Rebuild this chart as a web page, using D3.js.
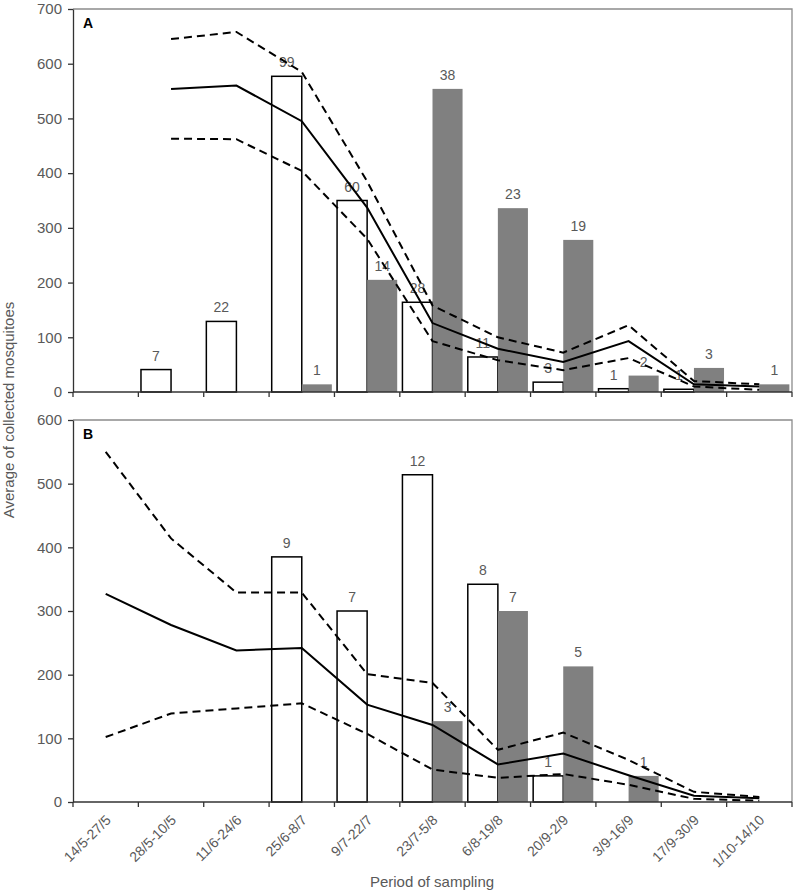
<!DOCTYPE html>
<html><head><meta charset="utf-8">
<script src="https://cdn.jsdelivr.net/npm/d3@7"></script>
<style>body{margin:0;background:#fff}svg{display:block}text{font-family:"Liberation Sans",Arial,sans-serif}</style>
</head><body><svg id="c" width="796" height="896"></svg>
<script>
const categories = ["14/5-27/5","28/5-10/5","11/6-24/6","25/6-8/7","9/7-22/7","23/7-5/8","6/8-19/8","20/9-2/9","3/9-16/9","17/9-30/9","1/10-14/10"];

const aWhite       = [null, 41, 129, 577, 350, 164, 64, 18, 6, 5, null];
const aWhiteLabels = [null, 7, 22, 99, 60, 28, 11, 3, 1, 1, null];
const aGray        = [null, null, null, 14, 205, 554, 336, 278, 30, 44, 14];
const aGrayLabels  = [null, null, null, 1, 14, 38, 23, 19, 2, 3, 1];
const aMean  = [null, 554, 560, 495, 337, 126, 79, 55, 93, 14, 10];
const aUpper = [null, 645, 658, 585, 385, 158, 100, 72, 122, 20, 14];
const aLower = [null, 463, 462, 404, 280, 93, 58, 40, 62, 10, 4];
const aTicks = [0,100,200,300,400,500,600,700];

const bWhite       = [null, null, null, 385, 300, 514, 342, 41, null, null, null];
const bWhiteLabels = [null, null, null, 9, 7, 12, 8, 1, null, null, null];
const bGray        = [null, null, null, null, null, 127, 300, 213, 41, null, null];
const bGrayLabels  = [null, null, null, null, null, 3, 7, 5, 1, null, null];
const bMean  = [327, 278, 238, 242, 153, 121, 59, 76, 42, 10, 6];
const bUpper = [550, 414, 329, 329, 201, 187, 82, 109, 66, 16, 8];
const bLower = [102, 139, 147, 155, 107, 51, 38, 44, 27, 5, 2];
const bTicks = [0,100,200,300,400,500,600];

const svg = d3.select("#c");
const left = 73, right = 792;
const x = d3.scaleBand().domain(categories).range([left, right]).padding(0);
const bw = x.bandwidth() * 0.46;
const off = (x.bandwidth() - 2 * bw) / 2;
const txtCol = "#595959";

function panel(cfg) {
  const y = d3.scaleLinear().domain([0, cfg.max]).range([cfg.bottom, cfg.top]);
  const g = svg.append("g");
  g.append("path").attr("d", `M${left},${cfg.top}H${right}V${cfg.bottom}`)
    .attr("fill", "none").attr("stroke", "#8c8c8c").attr("stroke-width", 1.3);

  const idx = categories.map((c, i) => i);
  g.selectAll(".w").data(idx.filter(i => cfg.white[i] != null)).join("rect")
    .attr("x", i => x(categories[i]) + off).attr("width", bw)
    .attr("y", i => y(cfg.white[i])).attr("height", i => cfg.bottom - y(cfg.white[i]))
    .attr("fill", "#fff").attr("stroke", "#000").attr("stroke-width", 1.5);
  g.selectAll(".g").data(idx.filter(i => cfg.gray[i] != null)).join("rect")
    .attr("x", i => x(categories[i]) + off + bw).attr("width", bw)
    .attr("y", i => y(cfg.gray[i])).attr("height", i => cfg.bottom - y(cfg.gray[i]))
    .attr("fill", "#808080");
  g.selectAll(".wl").data(idx.filter(i => cfg.whiteL[i] != null)).join("text")
    .attr("x", i => x(categories[i]) + off + bw / 2).attr("y", i => y(cfg.white[i]) - 9)
    .attr("text-anchor", "middle").attr("font-size", 14).attr("fill", txtCol)
    .text(i => cfg.whiteL[i]);
  g.selectAll(".gl").data(idx.filter(i => cfg.grayL[i] != null)).join("text")
    .attr("x", i => x(categories[i]) + off + bw * 1.5).attr("y", i => y(cfg.gray[i]) - 9)
    .attr("text-anchor", "middle").attr("font-size", 14).attr("fill", txtCol)
    .text(i => cfg.grayL[i]);

  const line = d3.line().defined(d => d != null)
    .x((d, i) => x(categories[i]) + x.bandwidth() / 2).y(d => y(d));
  g.append("path").attr("d", line(cfg.upper)).attr("fill", "none")
    .attr("stroke", "#000").attr("stroke-width", 2).attr("stroke-dasharray", "8,5");
  g.append("path").attr("d", line(cfg.lower)).attr("fill", "none")
    .attr("stroke", "#000").attr("stroke-width", 2).attr("stroke-dasharray", "8,5");
  g.append("path").attr("d", line(cfg.mean)).attr("fill", "none")
    .attr("stroke", "#000").attr("stroke-width", 2);

  const ya = g.append("g").attr("transform", `translate(${left},0)`)
    .call(d3.axisLeft(y).tickValues(cfg.ticks).tickSize(5).tickSizeOuter(0).tickPadding(6));
  ya.select(".domain").attr("stroke", "#333").attr("stroke-width", 1.3);
  ya.selectAll(".tick line").attr("stroke", "#333").attr("stroke-width", 1.3);
  ya.selectAll("text").attr("font-size", 15).attr("fill", txtCol)
    .style("font-family", '"Liberation Sans",Arial,sans-serif');

  const bounds = categories.map(c => x(c)).concat([right]);
  g.append("line").attr("x1", left).attr("x2", right).attr("y1", cfg.bottom).attr("y2", cfg.bottom)
    .attr("stroke", "#333").attr("stroke-width", 1.3);
  g.selectAll(".bt").data(bounds).join("line")
    .attr("x1", d => d).attr("x2", d => d).attr("y1", cfg.bottom).attr("y2", cfg.bottom + 5)
    .attr("stroke", "#333").attr("stroke-width", 1.3);

  g.append("text").attr("x", 83).attr("y", cfg.top + 19).attr("font-size", 14)
    .attr("font-weight", "bold").attr("fill", "#000").text(cfg.letter);
  return y;
}

panel({top: 9, bottom: 392, max: 700, ticks: aTicks, white: aWhite, whiteL: aWhiteLabels,
  gray: aGray, grayL: aGrayLabels, mean: aMean, upper: aUpper, lower: aLower, letter: "A"});
panel({top: 420, bottom: 802, max: 600, ticks: bTicks, white: bWhite, whiteL: bWhiteLabels,
  gray: bGray, grayL: bGrayLabels, mean: bMean, upper: bUpper, lower: bLower, letter: "B"});

svg.append("g").selectAll("text").data(categories).join("text")
  .attr("transform", c => `translate(${x(c) + x.bandwidth() / 2 + 6},${821}) rotate(-45)`)
  .attr("text-anchor", "end").attr("font-size", 14).attr("fill", txtCol).text(c => c);

svg.append("text").attr("x", 432).attr("y", 887).attr("text-anchor", "middle")
  .attr("font-size", 15).attr("fill", txtCol).text("Period of sampling");
svg.append("text").attr("transform", "translate(14,410) rotate(-90)").attr("text-anchor", "middle")
  .attr("font-size", 15).attr("fill", txtCol).text("Average of collected mosquitoes");
</script></body></html>
